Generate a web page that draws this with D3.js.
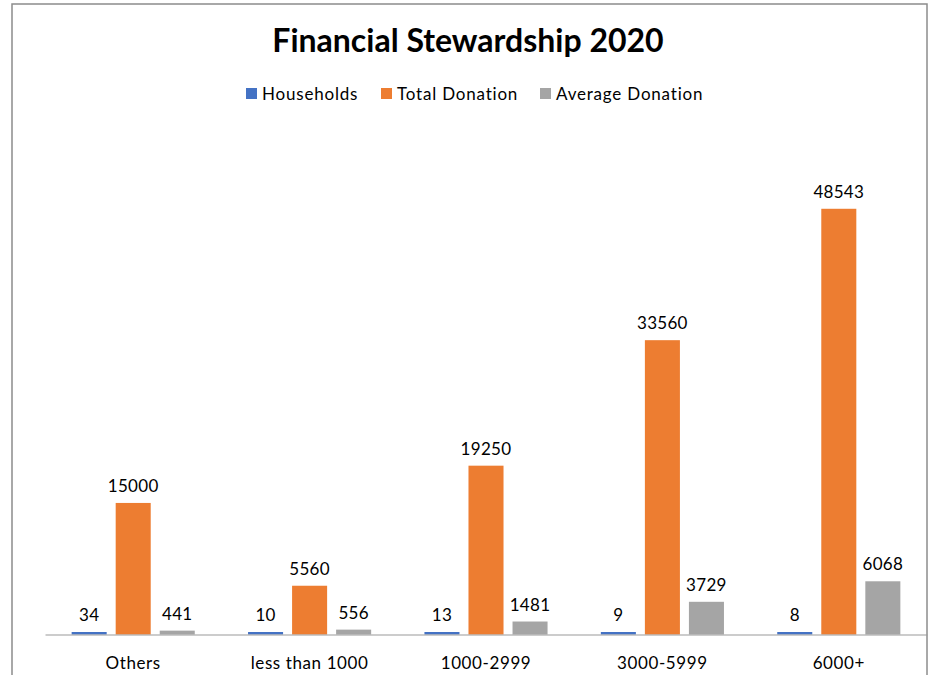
<!DOCTYPE html>
<html><head><meta charset="utf-8">
<script src="https://cdn.jsdelivr.net/npm/d3@7"></script>
<style>html,body{margin:0;padding:0;background:#fff;}svg{display:block;}</style>
</head><body>
<svg id="chart" width="934" height="675"></svg>
<script>
const categories = ["Others", "less than 1000", "1000-2999", "3000-5999", "6000+"];
const seriesNames = ["Households", "Total Donation", "Average Donation"];
const households = [34, 10, 13, 9, 8];
const totalDonation = [15000, 5560, 19250, 33560, 48543];
const averageDonation = [441, 556, 1481, 3729, 6068];
const colors = ["#4472C4", "#ED7D31", "#A5A5A5"];
const title = "Financial Stewardship 2020";

const seriesValues = [households, totalDonation, averageDonation];
const font = "Lato, 'Open Sans', sans-serif";
const svg = d3.select("#chart");

// outer border
svg.append("rect").attr("x", 12).attr("y", 4).attr("width", 915).attr("height", 690)
  .attr("fill", "#fff").attr("stroke", "#8c8c8c").attr("stroke-width", 1.5);

const x0 = d3.scaleBand().domain(categories).range([45, 927]).paddingInner(0).paddingOuter(0);
const x1 = d3.scaleBand().domain(seriesNames).range([0, x0.bandwidth()]).paddingInner(0.2045).paddingOuter(0.605);
const y = d3.scaleLinear().domain([0, 60000]).range([634.5, 108.3]);

const groups = svg.append("g").selectAll("g").data(categories).join("g")
  .attr("transform", d => `translate(${x0(d)},0)`);

groups.each(function(cat, ci) {
  const g = d3.select(this);
  seriesNames.forEach((s, si) => {
    const v = seriesValues[si][ci];
    const top = Math.min(y(v), y(0) - 2.5);
    g.append("rect").attr("x", x1(s)).attr("width", x1.bandwidth())
      .attr("y", top).attr("height", y(0) - top).attr("fill", colors[si]);
    g.append("text").attr("x", x1(s) + x1.bandwidth() / 2).attr("y", top - 11)
      .attr("text-anchor", "middle").attr("font-family", font).attr("font-size", 17)
      .attr("letter-spacing", 0.3).attr("fill", "#000").text(v);
  });
});

// x axis
const xAxis = svg.append("g").attr("transform", `translate(0,${y(0)})`)
  .call(d3.axisBottom(x0).tickSize(0).tickPadding(0));
xAxis.select(".domain").attr("stroke", "#9a9a9a").attr("stroke-width", 1.2);
xAxis.selectAll("text").attr("font-family", font).attr("font-size", 17).attr("fill", "#000")
  .attr("letter-spacing", 0.6).attr("dy", null).attr("y", 34);

// title
svg.append("text").attr("x", 468).attr("y", 52).attr("text-anchor", "middle")
  .attr("font-family", font).attr("font-weight", "bold").attr("font-size", 32)
  .attr("fill", "#000").text(title);

// legend
const legendX = [246, 381, 540];
const legend = svg.append("g").selectAll("g").data(seriesNames).join("g")
  .attr("transform", (d, i) => `translate(${legendX[i]},88)`);
legend.append("rect").attr("width", 11).attr("height", 11).attr("fill", (d, i) => colors[i]);
legend.append("text").attr("x", 16).attr("y", 11.5).attr("font-family", font).attr("font-size", 17)
  .attr("letter-spacing", 0.8).attr("fill", "#000").text(d => d);
</script>
</body></html>
